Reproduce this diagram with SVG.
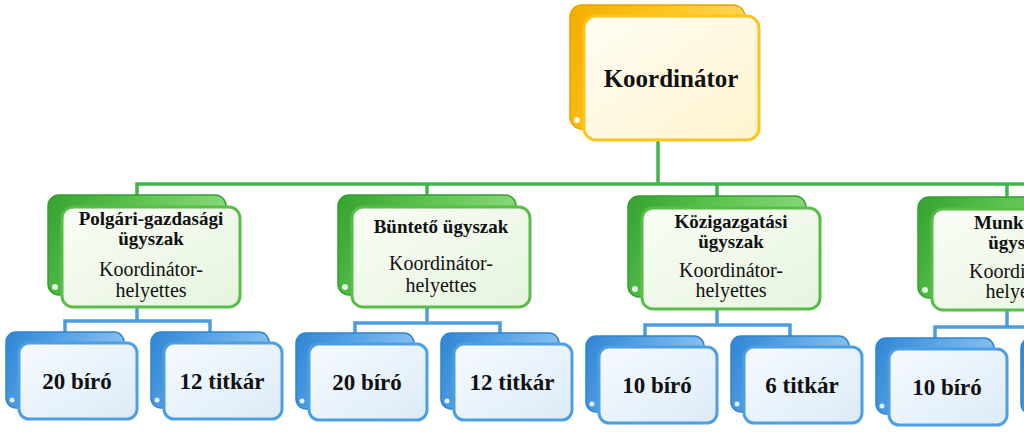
<svg xmlns="http://www.w3.org/2000/svg" width="1024" height="432" viewBox="0 0 1024 432">
<defs>
<linearGradient id="yBack" x1="0" y1="0" x2="1" y2="0.3">
<stop offset="0" stop-color="#f3ac00"/><stop offset="0.5" stop-color="#fcc51e"/><stop offset="1" stop-color="#ffd95a"/>
</linearGradient>
<linearGradient id="yFront" x1="0" y1="0" x2="1" y2="1">
<stop offset="0" stop-color="#fffdf3"/><stop offset="1" stop-color="#fff3cf"/>
</linearGradient>
<linearGradient id="gBack" x1="0" y1="0" x2="1" y2="0.3">
<stop offset="0" stop-color="#35a230"/><stop offset="0.5" stop-color="#5fc452"/><stop offset="1" stop-color="#8ed87f"/>
</linearGradient>
<linearGradient id="gFront" x1="0" y1="0" x2="1" y2="1">
<stop offset="0" stop-color="#f9fdf6"/><stop offset="1" stop-color="#e6f4de"/>
</linearGradient>
<linearGradient id="bBack" x1="0" y1="0" x2="1" y2="0.3">
<stop offset="0" stop-color="#2f85d3"/><stop offset="0.5" stop-color="#5aa5e6"/><stop offset="1" stop-color="#8cc2ef"/>
</linearGradient>
<linearGradient id="bFront" x1="0" y1="0" x2="1" y2="1">
<stop offset="0" stop-color="#f6fafe"/><stop offset="1" stop-color="#dcebf8"/>
</linearGradient>
</defs>
<style>
.yb{fill:url(#yBack);stroke:#eaa200;stroke-width:1.5}
.yf{fill:url(#yFront);stroke:#fcc41c;stroke-width:3}
.gb{fill:url(#gBack);stroke:#34a02f;stroke-width:1.5}
.gf{fill:url(#gFront);stroke:#58be47;stroke-width:3}
.bb{fill:url(#bBack);stroke:#2f84d0;stroke-width:1.5}
.bf{fill:url(#bFront);stroke:#4d9fe2;stroke-width:3}
.curl{fill:#ffffff;opacity:0.85}
.gl{fill:none;stroke:#3fb64b;stroke-width:3.5}
.bl{fill:none;stroke:#4c9de0;stroke-width:3.5}
text{font-family:"Liberation Serif","Times New Roman",serif;fill:#111111;text-anchor:middle}
.t1{font-size:25px;font-weight:bold}
.t2{font-size:19px;font-weight:bold}
.t3{font-size:20px}
.t4{font-size:23px;font-weight:bold}
</style>

<g id="connectors">
<path class="gl" d="M658,140 V184"/>
<path class="gl" d="M137,196 V184 H1024"/>
<path class="gl" d="M427,184 V196"/>
<path class="gl" d="M717,184 V197"/>
<path class="gl" d="M1007,184 V197"/>
<path class="bl" d="M137,308 V321 M65,333 V321 H210 V333"/>
<path class="bl" d="M427,308 V323 M355,334 V323 H500 V334"/>
<path class="bl" d="M717,310 V325 M645,336 V325 H790 V336"/>
<path class="bl" d="M1007,311 V327 M935,338 V327 H1024"/>
</g>

<g id="koordinator">
<rect class="yb" x="570" y="5" width="175" height="124" rx="12"/>
<circle class="curl" cx="577" cy="120" r="3"/>
<rect class="yf" x="584" y="16" width="175" height="124" rx="12"/>
<text class="t1" x="671" y="87">Koordinátor</text>
</g>

<g id="polgari">
<rect class="gb" x="48" y="195" width="178" height="100" rx="11"/>
<circle class="curl" cx="55" cy="287" r="3"/>
<rect class="gf" x="62" y="207" width="178" height="100" rx="11"/>
<text class="t2" x="151" y="225">Polgári-gazdasági</text>
<text class="t2" x="151" y="245">ügyszak</text>
<text class="t3" x="151" y="276">Koordinátor-</text>
<text class="t3" x="151" y="297">helyettes</text>
</g>

<g id="bunteto">
<rect class="gb" x="338" y="195" width="178" height="100" rx="11"/>
<circle class="curl" cx="345" cy="287" r="3"/>
<rect class="gf" x="352" y="207" width="178" height="100" rx="11"/>
<text class="t2" x="441" y="233">Büntető ügyszak</text>
<text class="t3" x="441" y="270">Koordinátor-</text>
<text class="t3" x="441" y="292">helyettes</text>
</g>

<g id="kozigazgatasi">
<rect class="gb" x="628" y="196" width="178" height="101" rx="11"/>
<circle class="curl" cx="635" cy="289" r="3"/>
<rect class="gf" x="642" y="208" width="178" height="101" rx="11"/>
<text class="t2" x="731" y="228">Közigazgatási</text>
<text class="t2" x="731" y="248">ügyszak</text>
<text class="t3" x="731" y="277">Koordinátor-</text>
<text class="t3" x="731" y="297">helyettes</text>
</g>

<g id="munkaugyi">
<rect class="gb" x="918" y="197" width="178" height="101" rx="11"/>
<circle class="curl" cx="925" cy="290" r="3"/>
<rect class="gf" x="932" y="209" width="178" height="101" rx="11"/>
<text class="t2" x="1021" y="229">Munkaügyi</text>
<text class="t2" x="1021" y="249">ügyszak</text>
<text class="t3" x="1021" y="278">Koordinátor-</text>
<text class="t3" x="1021" y="298">helyettes</text>
</g>

<g id="p-biro">
<rect class="bb" x="6" y="332" width="118" height="76" rx="10"/>
<circle class="curl" cx="12" cy="400" r="2.5"/>
<rect class="bf" x="19" y="343" width="118" height="76" rx="10"/>
<text class="t4" x="77" y="389">20 bíró</text>
</g>
<g id="p-titkar">
<rect class="bb" x="151" y="332" width="118" height="76" rx="10"/>
<circle class="curl" cx="157" cy="400" r="2.5"/>
<rect class="bf" x="164" y="343" width="118" height="76" rx="10"/>
<text class="t4" x="222" y="389">12 titkár</text>
</g>

<g id="b-biro">
<rect class="bb" x="296" y="333" width="118" height="76" rx="10"/>
<circle class="curl" cx="302" cy="401" r="2.5"/>
<rect class="bf" x="309" y="344" width="118" height="76" rx="10"/>
<text class="t4" x="367" y="390">20 bíró</text>
</g>
<g id="b-titkar">
<rect class="bb" x="441" y="333" width="118" height="76" rx="10"/>
<circle class="curl" cx="447" cy="401" r="2.5"/>
<rect class="bf" x="454" y="344" width="118" height="76" rx="10"/>
<text class="t4" x="512" y="390">12 titkár</text>
</g>

<g id="k-biro">
<rect class="bb" x="586" y="336" width="118" height="76" rx="10"/>
<circle class="curl" cx="592" cy="404" r="2.5"/>
<rect class="bf" x="599" y="347" width="118" height="76" rx="10"/>
<text class="t4" x="657" y="393">10 bíró</text>
</g>
<g id="k-titkar">
<rect class="bb" x="731" y="336" width="118" height="76" rx="10"/>
<circle class="curl" cx="737" cy="404" r="2.5"/>
<rect class="bf" x="744" y="347" width="118" height="76" rx="10"/>
<text class="t4" x="802" y="393">6 titkár</text>
</g>

<g id="m-biro">
<rect class="bb" x="876" y="338" width="118" height="76" rx="10"/>
<circle class="curl" cx="882" cy="406" r="2.5"/>
<rect class="bf" x="889" y="349" width="118" height="76" rx="10"/>
<text class="t4" x="947" y="395">10 bíró</text>
</g>
<g id="m-titkar">
<rect class="bb" x="1021" y="338" width="118" height="76" rx="10"/>
<rect class="bf" x="1034" y="349" width="118" height="76" rx="10"/>
</g>
</svg>
